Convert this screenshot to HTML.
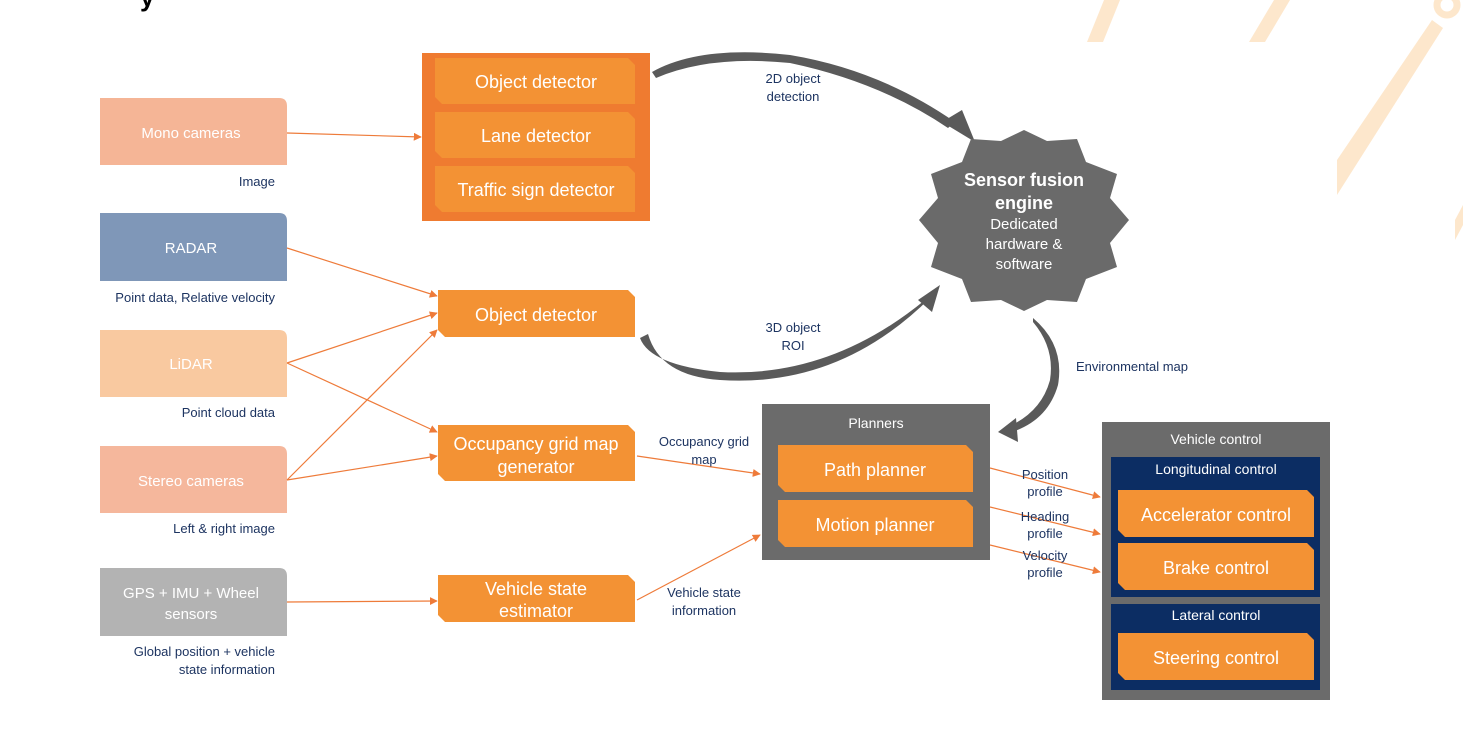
<!DOCTYPE html>
<html><head><meta charset="utf-8"><style>
html,body{margin:0;padding:0;background:#fff;}
svg{display:block;font-family:"Liberation Sans",sans-serif;}
.w{fill:#fff;font-size:18px;text-anchor:middle}
.s{fill:#fff;font-size:15px;text-anchor:middle}
.n{fill:#1d3461;font-size:13px}
</style></head><body>
<svg width="1463" height="747" viewBox="0 0 1463 747" xmlns="http://www.w3.org/2000/svg">
<defs>
<marker id="a" viewBox="0 0 10 10" refX="9" refY="5" markerWidth="8" markerHeight="8" orient="auto-start-reverse" markerUnits="userSpaceOnUse"><path d="M0,0L10,5L0,10z" fill="#ee7b3a"/></marker>
</defs>
<g fill="#fde7cc">
<polygon points="1087,42 1103,42 1120,0 1104,0"/>
<polygon points="1249,42 1265,42 1290,0 1274,0"/>
<polygon points="1337,195 1337,160 1432,20 1443,28"/>
<polygon points="1455,240 1463,225 1463,205 1455,220"/>
</g>
<circle cx="1447" cy="5" r="10" fill="none" stroke="#fde7cc" stroke-width="7"/>
<text x="140" y="6" font-size="26" font-weight="bold" fill="#000">y</text>

<g>
<path d="M100,98H279Q287,98 287,106V165H100Z" fill="#f5b596"/>
<path d="M100,213H279Q287,213 287,221V281H100Z" fill="#7f97b8"/>
<path d="M100,330H279Q287,330 287,338V397H100Z" fill="#f9c9a0"/>
<path d="M100,446H279Q287,446 287,454V513H100Z" fill="#f5b79c"/>
<path d="M100,568H279Q287,568 287,576V636H100Z" fill="#b3b3b3"/>
</g>
<text class="s" x="191" y="138">Mono cameras</text>
<text class="s" x="191" y="253">RADAR</text>
<text class="s" x="191" y="369">LiDAR</text>
<text class="s" x="191" y="486">Stereo cameras</text>
<text class="s" x="191" y="598">GPS + IMU + Wheel</text>
<text class="s" x="191" y="619">sensors</text>
<g class="n" text-anchor="end">
<text x="275" y="186">Image</text>
<text x="275" y="302">Point data, Relative velocity</text>
<text x="275" y="417">Point cloud data</text>
<text x="275" y="533">Left &amp; right image</text>
<text x="275" y="656">Global position + vehicle</text>
<text x="275" y="674">state information</text>
</g>

<rect x="422" y="53" width="228" height="168" fill="#ef7b30"/>
<g fill="#f39234">
<polygon points="435,58 628,58 635,65 635,104 442,104 435,97"/>
<polygon points="435,112 628,112 635,119 635,158 442,158 435,151"/>
<polygon points="435,166 628,166 635,173 635,212 442,212 435,205"/>
<polygon points="438,290 628,290 635,297 635,337 445,337 438,330"/>
<polygon points="438,425 628,425 635,432 635,481 445,481 438,474"/>
<polygon points="438,575 628,575 635,582 635,622 445,622 438,615"/>
</g>
<text class="w" x="536" y="88">Object detector</text>
<text class="w" x="536" y="142">Lane detector</text>
<text class="w" x="536" y="196">Traffic sign detector</text>
<text class="w" x="536" y="321">Object detector</text>
<text class="w" x="536" y="450">Occupancy grid map</text>
<text class="w" x="536" y="473">generator</text>
<text class="w" x="536" y="595">Vehicle state</text>
<text class="w" x="536" y="617">estimator</text>

<g stroke="#ee7b3a" stroke-width="1.2" fill="none" marker-end="url(#a)">
<line x1="287" y1="133" x2="421" y2="137"/>
<line x1="287" y1="248" x2="437" y2="296"/>
<line x1="287" y1="363" x2="437" y2="313"/>
<line x1="287" y1="363" x2="437" y2="432"/>
<line x1="287" y1="480" x2="437" y2="330"/>
<line x1="287" y1="480" x2="437" y2="456"/>
<line x1="287" y1="602" x2="437" y2="601"/>
<line x1="637" y1="456" x2="760" y2="474"/>
<line x1="637" y1="600" x2="760" y2="535"/>
<line x1="990" y1="468" x2="1100" y2="497"/>
<line x1="990" y1="507" x2="1100" y2="534"/>
<line x1="990" y1="545" x2="1100" y2="572"/>
</g>
<g class="n" text-anchor="middle">
<text x="704" y="446">Occupancy grid</text>
<text x="704" y="464">map</text>
<text x="704" y="597">Vehicle state</text>
<text x="704" y="615">information</text>
<text x="1045" y="479">Position</text>
<text x="1045" y="496">profile</text>
<text x="1045" y="521">Heading</text>
<text x="1045" y="538">profile</text>
<text x="1045" y="560">Velocity</text>
<text x="1045" y="577">profile</text>
<text x="793" y="83">2D object</text>
<text x="793" y="101">detection</text>
<text x="793" y="332">3D object</text>
<text x="793" y="350">ROI</text>
</g>
<text class="n" x="1076" y="371">Environmental map</text>

<g fill="#5a5a5a">
<path d="M652,72 Q700,45 790,55 Q880,70 955,122 L948,128 Q880,82 790,63 Q710,55 656,78Z"/>
<polygon points="942,122 975,142 962,110"/>
<path d="M640,338 Q650,365 720,372 Q830,378 925,300 L931,297 Q840,388 720,380 Q660,376 648,334Z"/>
<polygon points="918,300 940,285 932,312"/>
<path d="M1033,318 Q1065,345 1058,385 Q1048,420 1012,432 L1012,425 Q1042,410 1050,380 Q1055,348 1033,322Z"/>
<polygon points="998,432 1016,418 1018,442"/>
</g>

<polygon fill="#6a6a6a" points="1024,130 1047,141 1077,139 1086,162 1117,174 1110,198 1129,220 1110,243 1117,267 1086,279 1077,302 1047,300 1024,311 1001,300 971,302 962,279 931,267 938,243 919,220 938,198 931,174 962,162 971,139 1001,141"/>
<text x="1024" y="186" fill="#fff" font-size="18" font-weight="bold" text-anchor="middle">Sensor fusion</text>
<text x="1024" y="209" fill="#fff" font-size="18" font-weight="bold" text-anchor="middle">engine</text>
<text x="1024" y="229" fill="#fff" font-size="15" text-anchor="middle">Dedicated</text>
<text x="1024" y="249" fill="#fff" font-size="15" text-anchor="middle">hardware &amp;</text>
<text x="1024" y="269" fill="#fff" font-size="15" text-anchor="middle">software</text>

<rect x="762" y="404" width="228" height="156" fill="#6b6b6b"/>
<text x="876" y="428" fill="#fff" font-size="14" text-anchor="middle">Planners</text>
<g fill="#f39234">
<polygon points="778,445 966,445 973,452 973,492 785,492 778,485"/>
<polygon points="778,500 966,500 973,507 973,547 785,547 778,540"/>
</g>
<text class="w" x="875" y="476">Path planner</text>
<text class="w" x="875" y="531">Motion planner</text>

<rect x="1102" y="422" width="228" height="278" fill="#6b6b6b"/>
<text x="1216" y="444" fill="#fff" font-size="14" text-anchor="middle">Vehicle control</text>
<rect x="1111" y="457" width="209" height="140" fill="#0c2d63"/>
<rect x="1111" y="604" width="209" height="86" fill="#0c2d63"/>
<text x="1216" y="474" fill="#fff" font-size="14" text-anchor="middle">Longitudinal control</text>
<text x="1216" y="620" fill="#fff" font-size="14" text-anchor="middle">Lateral control</text>
<g fill="#f39234">
<polygon points="1118,490 1307,490 1314,497 1314,537 1125,537 1118,530"/>
<polygon points="1118,543 1307,543 1314,550 1314,590 1125,590 1118,583"/>
<polygon points="1118,633 1307,633 1314,640 1314,680 1125,680 1118,673"/>
</g>
<text class="w" x="1216" y="521">Accelerator control</text>
<text class="w" x="1216" y="574">Brake control</text>
<text class="w" x="1216" y="664">Steering control</text>
</svg>
</body></html>
